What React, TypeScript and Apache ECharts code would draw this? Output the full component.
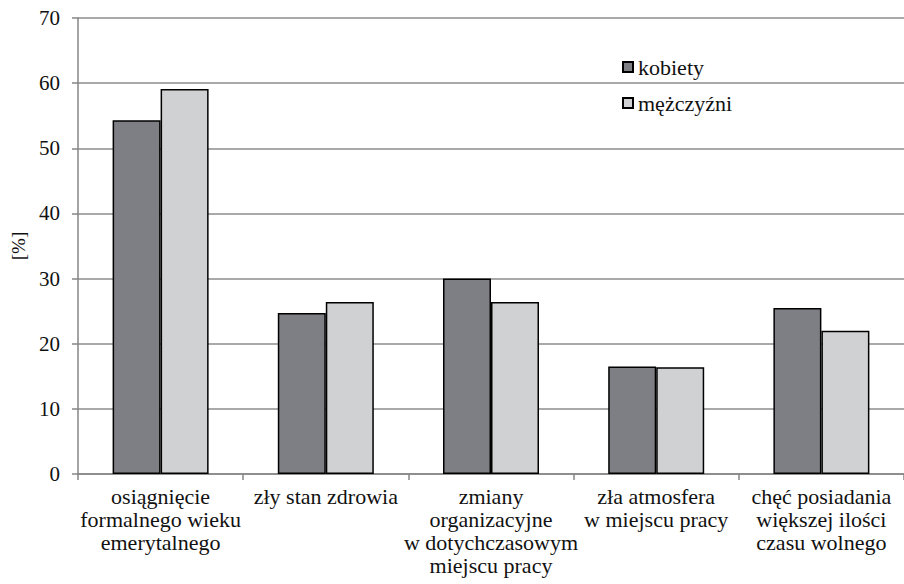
import React, { useEffect, useRef } from "react";
import * as echarts from "echarts";

const categories = [
  "osiągnięcie\nformalnego wieku\nemerytalnego",
  "zły stan zdrowia",
  "zmiany\norganizacyjne\nw dotychczasowym\nmiejscu pracy",
  "zła atmosfera\nw miejscu pracy",
  "chęć posiadania\nwiększej ilości\nczasu wolnego",
];
const kobiety = [54.3, 24.7, 30.0, 16.5, 25.5];
const mezczyzni = [59.1, 26.4, 26.4, 16.4, 22.0];
const yTicks = { min: 0, max: 70, interval: 10 };

const FONT = "Liberation Serif";

export default function App() {
  const ref = useRef<HTMLDivElement>(null);
  useEffect(() => {
    const chart = echarts.init(ref.current!, null, { renderer: "svg" });
    chart.setOption({
      animation: false,
      backgroundColor: "#ffffff",
      textStyle: { fontFamily: FONT, color: "#111111" },
      grid: { left: 78, top: 18, bottom: 110, right: -9, containLabel: false },
      legend: {
        orient: "vertical",
        left: 617,
        top: 51,
        itemWidth: 10,
        itemHeight: 10,
        itemGap: 14,
        icon: "rect",
        textStyle: { fontFamily: FONT, fontSize: 22, color: "#111111", lineHeight: 22 },
        data: ["kobiety", "mężczyźni"],
      },
      xAxis: {
        type: "category",
        data: categories,
        axisLine: { lineStyle: { color: "#868686", width: 1.5 } },
        axisTick: { show: true, length: 6, lineStyle: { color: "#868686", width: 1.5 } },
        axisLabel: {
          interval: 0,
          margin: 11,
          fontFamily: FONT,
          fontSize: 22,
          lineHeight: 23,
          color: "#111111",
          align: "center",
        },
      },
      yAxis: {
        type: "value",
        min: yTicks.min,
        max: yTicks.max,
        interval: yTicks.interval,
        name: "[%]",
        nameLocation: "middle",
        nameGap: 50,
        nameRotate: 90,
        nameTextStyle: { fontFamily: FONT, fontSize: 19, color: "#111111" },
        axisLine: { show: true, lineStyle: { color: "#868686", width: 1.5 } },
        axisTick: { show: true, length: 6, lineStyle: { color: "#868686", width: 1.5 } },
        axisLabel: { margin: 18, fontFamily: FONT, fontSize: 21, color: "#111111" },
        splitLine: { show: true, lineStyle: { color: "#8c8c8c", width: 1.5 } },
      },
      series: [
        {
          name: "kobiety",
          type: "bar",
          data: kobiety,
          barWidth: 48,
          barGap: "0%",
          itemStyle: { color: "#7e7f84", borderColor: "#000000", borderWidth: 1.5 },
        },
        {
          name: "mężczyźni",
          type: "bar",
          data: mezczyzni,
          barWidth: 48,
          barGap: "0%",
          itemStyle: { color: "#d0d1d3", borderColor: "#000000", borderWidth: 1.5 },
        },
      ],
    });
    return () => chart.dispose();
  }, []);
  return <div ref={ref} style={{ width: 904, height: 584, position: "absolute", left: 0, top: 0 }} />;
}
